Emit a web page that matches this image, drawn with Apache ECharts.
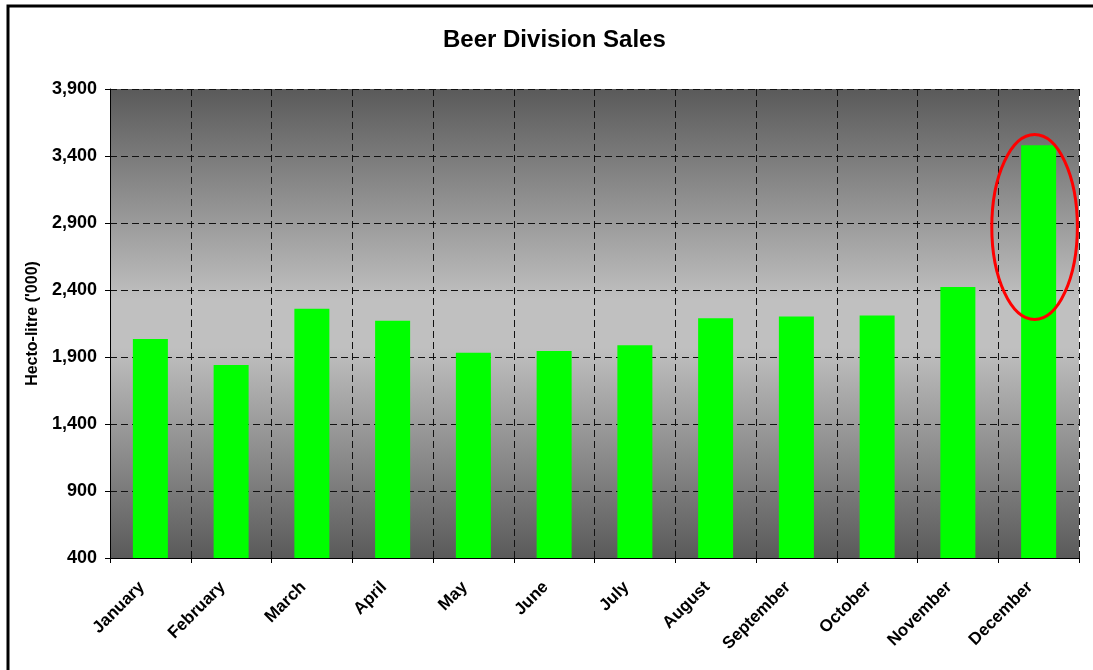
<!DOCTYPE html>
<html>
<head>
<meta charset="utf-8">
<script src="https://cdn.jsdelivr.net/npm/echarts@6/dist/echarts.min.js"></script>
<style>
html,body{margin:0;padding:0;background:#fff;}
#chart{width:1093px;height:670px;}
</style>
</head>
<body>
<div id="chart"></div>
<script>
const months = ['January','February','March','April','May','June','July','August','September','October','November','December'];
const sales = [2035, 1840, 2260, 2170, 1932, 1945, 1987, 2190, 2202, 2210, 2422, 3480];
const yTicks = [400, 900, 1400, 1900, 2400, 2900, 3400, 3900];
const highlightMonth = 'December';
const highlightRange = [2180, 3560];

const FONT = 'Liberation Sans, Arial, sans-serif';
const chart = echarts.init(document.getElementById('chart'), null, {renderer: 'canvas'});

const option = {
  animation: false,
  backgroundColor: '#ffffff',
  title: {
    text: 'Beer Division Sales',
    left: 438,
    top: 23,
    textStyle: {fontFamily: FONT, fontSize: 24, fontWeight: 'bold', color: '#000'}
  },
  grid: {
    left: 110, right: 14, top: 89, bottom: 112,
    show: true,
    borderWidth: 0,
    backgroundColor: new echarts.graphic.LinearGradient(0, 0, 0, 1, [
      {offset: 0, color: '#5a5a5a'},
      {offset: 0.45, color: '#c0c0c0'},
      {offset: 0.55, color: '#c0c0c0'},
      {offset: 1, color: '#5a5a5a'}
    ])
  },
  xAxis: {
    type: 'category',
    data: months,
    boundaryGap: true,
    axisLine: {show: true, lineStyle: {color: '#000', width: 1}},
    axisTick: {show: true, interval: 0, length: 5, lineStyle: {color: '#000'}},
    splitLine: {show: true, interval: 0, lineStyle: {color: '#111', type: [7, 4], width: 1}},
    axisLabel: {
      interval: 0, rotate: 45, margin: 18,
      padding: [0, 12, 0, 0],
      fontFamily: FONT, fontSize: 17, fontWeight: 'bold', color: '#000'
    }
  },
  yAxis: {
    type: 'value',
    min: yTicks[0], max: yTicks[yTicks.length - 1], interval: yTicks[1] - yTicks[0],
    name: "Hecto-litre ('000)",
    nameLocation: 'middle',
    nameGap: 67,
    nameRotate: 90,
    nameTextStyle: {fontFamily: FONT, fontSize: 16, fontWeight: 'bold', color: '#000'},
    axisLine: {show: true, lineStyle: {color: '#000', width: 1}},
    axisTick: {show: true, length: 5, lineStyle: {color: '#000'}},
    splitLine: {show: true, lineStyle: {color: '#111', type: [7, 4], width: 1}},
    axisLabel: {
      margin: 13,
      fontFamily: FONT, fontSize: 18, fontWeight: 'bold', color: '#000',
      formatter: v => v.toLocaleString('en-US')
    }
  },
  series: [{
    type: 'bar',
    data: sales,
    barWidth: 35,
    itemStyle: {color: '#00ff00'}
  }]
};
chart.setOption(option);

// annotation ellipse & outer frame
const idx = months.indexOf(highlightMonth);
const c = chart.convertToPixel({gridIndex: 0}, [idx, (highlightRange[0] + highlightRange[1]) / 2]);
const prev = chart.convertToPixel({gridIndex: 0}, [idx - 1, highlightRange[0]]);
const topP = chart.convertToPixel({gridIndex: 0}, [idx, highlightRange[1]]);
const band = c[0] - prev[0];
chart.setOption({
  graphic: [
    {
      type: 'ellipse',
      shape: {cx: c[0] - band * 0.05, cy: c[1], rx: band * 0.53, ry: c[1] - topP[1]},
      style: {fill: 'none', stroke: '#ff0000', lineWidth: 3},
      z: 100
    },
    {
      type: 'rect',
      shape: {x: 8, y: 6, width: 1100, height: 700},
      style: {fill: 'none', stroke: '#000', lineWidth: 3},
      z: 100
    }
  ]
});
</script>
</body>
</html>
